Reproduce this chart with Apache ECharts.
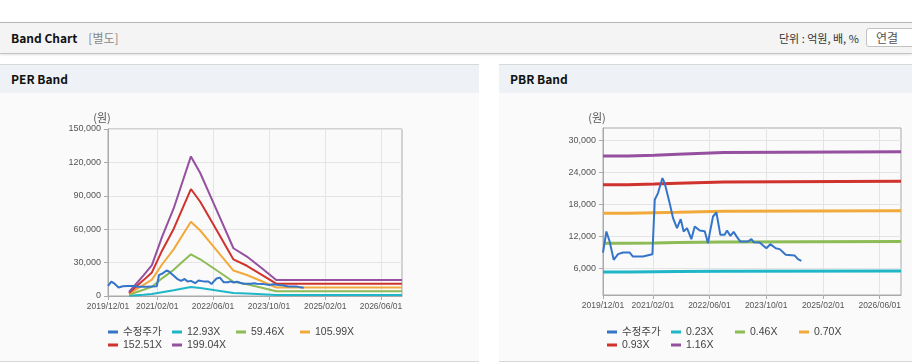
<!DOCTYPE html>
<html>
<head>
<meta charset="utf-8">
<script src="https://cdn.jsdelivr.net/npm/echarts@6/dist/echarts.min.js"></script>
<style>
  body { margin: 0; width: 912px; height: 364px; overflow: hidden; background: #fff;
         font-family: "Noto Sans CJK KR", "Liberation Sans", sans-serif; position: relative; }
  .topbar { position: absolute; left: 0; top: 22px; width: 912px; height: 30px; background: #f4f4f4;
            border-top: 1px solid #b4b4b4; border-bottom: 1px solid #c4c4c4; box-shadow: 0 1px 2px rgba(0,0,0,.12); }
  .topbar .ttl { position: absolute; left: 11px; top: 0; line-height: 30px; font-size: 12px; font-weight: bold; color: #111; }
  .topbar .sub { color: #888; font-weight: normal; margin-left: 11px; }
  .topbar .unit { position: absolute; left: 779px; top: 0; line-height: 30px; font-size: 11px; color: #333; }
  .topbar .btn { position: absolute; left: 866px; top: 5px; width: 52px; height: 19px; background: #fff;
                 border: 1px solid #c2c2c2; border-radius: 3px; font-size: 12px; line-height: 18px; color: #555;
                 padding-left: 9px; box-sizing: border-box; }
  .panel { position: absolute; top: 64px; height: 298px; background: #fafafa;
           border-top: 1px solid #d8d8d8; border-bottom: 1px solid #d8d8d8; box-sizing: border-box; }
  .panel .hd { height: 28px; background: #eef1f6; font-size: 12px; font-weight: bold; line-height: 28px;
               padding-left: 11px; color: #111; }
  .panel .cv { position: absolute; left: 0; top: 28px; right: 0; height: 268px; }
</style>
</head>
<body>
<div class="topbar">
  <div class="ttl">Band Chart<span class="sub">[별도]</span></div>
  <div class="unit">단위 : 억원, 배, %</div>
  <div class="btn">연결</div>
</div>
<div class="panel" style="left:0;width:479px"><div class="hd">PER Band</div><div class="cv" id="per"></div></div>
<div class="panel" style="left:499px;width:413px"><div class="hd">PBR Band</div><div class="cv" id="pbr"></div></div>
<script>
// ── data ─────────────────────────────────────────────────────────────
const xTickLabels = ["2019/12/01", "2021/02/01", "2022/06/01", "2023/10/01", "2025/02/01", "2026/06/01"];
const xMin = "2019/12/01", xMax = "2026/12/01";

// 수정주가 (adjusted price), shared by both charts
const priceDates = [
  "2019-12-01","2019-12-30","2020-01-27","2020-03-02","2020-04-08","2020-05-21","2020-07-17","2020-08-14",
  "2020-11-08","2021-01-28","2021-02-17","2021-03-17","2021-04-24","2021-05-13","2021-06-25","2021-07-24",
  "2021-08-27","2021-09-28","2021-10-23","2021-11-21","2021-12-08","2021-12-28","2022-01-26","2022-03-10",
  "2022-04-22","2022-05-20","2022-06-04","2022-07-02","2022-07-31","2022-08-11","2022-09-03","2022-10-10",
  "2022-10-30","2022-11-28","2022-12-26","2023-01-24","2023-02-22","2023-04-28","2023-05-27","2023-06-16",
  "2023-08-06","2023-10-03","2023-11-06","2023-12-22","2024-01-25","2024-03-17","2024-06-02","2024-06-30",
  "2024-07-29"];
const priceValues = [
  9000, 12940, 11060, 7630, 8700, 9000, 9000, 8250,
  8250, 8700, 18880, 20140, 22950, 22010, 18260, 15450,
  13570, 15260, 12940, 13570, 12640, 11510, 13880, 13130,
  13000, 10760, 12640, 15750, 16500, 16400, 12320, 12320,
  13130, 12130, 12880, 11890, 11060, 11060, 11510, 10950,
  10880, 9820, 10570, 9820, 9640, 8570, 8440, 7760,
  7440];

// PER bands
const perBandDates = ["2020-06-01","2020-10-05","2020-12-17","2021-03-15","2021-06-24","2021-11-21","2022-02-10",
  "2022-06-06","2022-11-26","2023-03-23","2023-07-31","2023-12-03","2026-12-01"];
const per1293 = [230, 1210, 1800, 3450, 5110, 8150, 7180, 5420, 2790, 2300, 1620, 935, 935];
const per5946 = [1070, 5560, 8270, 15880, 23490, 37460, 33000, 24910, 12810, 10580, 7430, 4300, 4300];
const per10599 = [1910, 9910, 14730, 28300, 41870, 66770, 58820, 44410, 22840, 18870, 13250, 7660, 7660];
const per15251 = [2750, 14260, 21200, 40720, 60240, 96080, 84640, 63900, 32870, 27150, 19060, 11030, 11030];
const per19904 = [3580, 18610, 27670, 53140, 78620, 125400, 110470, 83400, 42890, 35430, 24880, 14390, 14390];
const perYTicks = [0, 30000, 60000, 90000, 120000, 150000];
const perYMin = 0, perYMax = 150000;

// PBR bands (step lines)
const pbrBandDates = ["2019-12-01","2020-07-01","2021-02-15","2021-09-01","2022-10-01","2026-12-01"];
const pbr023 = [5370, 5400, 5430, 5500, 5530, 5530];
const pbr046 = [10740, 10800, 10870, 10990, 11050, 11050];
const pbr070 = [16340, 16440, 16530, 16730, 16820, 16820];
const pbr093 = [21710, 21840, 21970, 22230, 22350, 22350];
const pbr116 = [27070, 27240, 27400, 27720, 27870, 27870];
const pbrYTicks = [6000, 12000, 18000, 24000, 30000];
const pbrYMin = 1050, pbrYMax = 32330;

const C = { price: "#3474c9", c1: "#1fb6c8", c2: "#8dbb55", c3: "#f2a93b", c4: "#d0322d", c5: "#95509f" };

// ── helpers ──────────────────────────────────────────────────────────
function ts(s) {
  const [y, m, d] = s.split(/[-/]/).map(Number);
  return new Date(y, m - 1, d).getTime();
}
function pairs(dates, vals) { return dates.map((d, i) => [ts(d), vals[i]]); }
function pad(n) { return n < 10 ? "0" + n : "" + n; }
function fmtDate(v) {
  const d = new Date(v);
  return `${d.getFullYear()}/${pad(d.getMonth() + 1)}/${pad(d.getDate())}`;
}
function fmtNum(v) { return Math.round(v).toLocaleString("en-US"); }

const xTicks = xTickLabels.map(ts);
const LBL = { color: "#555", fontSize: 9, fontFamily: "Liberation Sans, Noto Sans CJK KR" };
const AX = { color: "#aaa" };

function xAxisDef(ticks, gridIndex) {
  return {
    type: "value", gridIndex, min: ts(xMin), max: ts(xMax), position: "bottom",
    show: ticks.length > 0,
    axisLine: { show: gridIndex === 0, lineStyle: AX },
    axisTick: { show: true, customValues: ticks, length: 4, lineStyle: AX },
    // slightly smaller: the 2019/12 and 2021/02 labels sit close together
    axisLabel: { ...LBL, fontSize: 8.5, customValues: ticks, formatter: fmtDate, margin: 6,
                 hideOverlap: false },
    splitLine: { show: gridIndex === 0, lineStyle: { color: "#e4e4e4" } },
  };
}
function yAxisDef(ticks, gridIndex, min, max) {
  const main = gridIndex === 0;
  return {
    type: "value", gridIndex, min, max, show: ticks.length > 0,
    name: main ? "(원)" : "", nameGap: 6,
    nameTextStyle: { color: "#555", fontSize: 11, align: "center", padding: [0, 12, 0, 0],
                     fontFamily: "Noto Sans CJK KR" },
    axisLine: { show: main, lineStyle: AX },
    axisTick: { show: true, customValues: ticks, length: 4, lineStyle: AX },
    axisLabel: { ...LBL, customValues: ticks, formatter: fmtNum, margin: 7 },
    splitLine: { show: main, lineStyle: { color: "#e4e4e4" } },
  };
}

// Origin labels (first date, a zero value) go on overlay grids of the same rect.
function baseOption(bands, yTicks, yMin, yMax, rect) {
  const series = [{
    name: "수정주가", type: "line", data: pairs(priceDates, priceValues),
    symbol: "none", z: 4, itemStyle: { color: C.price }, lineStyle: { color: C.price, width: 2 },
  }];
  for (const b of bands) {
    series.push({
      name: b.name, type: "line", data: b.data, symbol: "none", z: 3,
      step: b.step || false,
      itemStyle: { color: b.color }, lineStyle: { color: b.color, width: b.width || 2 },
    });
  }
  const yLow = yTicks.filter(v => v === yMin);
  const yMain = yTicks.filter(v => v !== yMin);
  return {
    backgroundColor: "transparent", animation: false,
    grid: [
      { ...rect, show: true, borderColor: "#aaa", borderWidth: 1, outerBoundsMode: "none" },
      { ...rect, show: false, outerBoundsMode: "none" },
      { ...rect, show: false, outerBoundsMode: "none" },
    ],
    legend: {
      data: series.map(s => s.name), left: 108, top: 233, width: 262, padding: 0,
      icon: "rect", itemWidth: 10, itemHeight: 3, itemGap: 1,
      textStyle: { color: "#444", fontSize: 10.5, width: 48, lineHeight: 12,
                   fontFamily: "Liberation Sans, Noto Sans CJK KR" },
    },
    xAxis: [xAxisDef(xTicks.slice(1), 0), xAxisDef(xTicks.slice(0, 1), 1), xAxisDef([], 2)],
    yAxis: [yAxisDef(yMain, 0, yMin, yMax), yAxisDef([], 1, yMin, yMax), yAxisDef(yLow, 2, yMin, yMax)],
    series,
  };
}

// ── PER chart ────────────────────────────────────────────────────────
const perChart = echarts.init(document.getElementById("per"), null, { renderer: "canvas" });
perChart.setOption(baseOption([
  { name: "12.93X",  color: C.c1, data: pairs(perBandDates, per1293) },
  { name: "59.46X",  color: C.c2, data: pairs(perBandDates, per5946) },
  { name: "105.99X", color: C.c3, data: pairs(perBandDates, per10599) },
  { name: "152.51X", color: C.c4, data: pairs(perBandDates, per15251) },
  { name: "199.04X", color: C.c5, data: pairs(perBandDates, per19904) },
], perYTicks, perYMin, perYMax, { left: 108, top: 36, width: 294, height: 167 }));

// ── PBR chart ────────────────────────────────────────────────────────
const pbrChart = echarts.init(document.getElementById("pbr"), null, { renderer: "canvas" });
const pbrOpt = baseOption([
  { name: "0.23X", color: C.c1, width: 3, step: "end", data: pairs(pbrBandDates, pbr023) },
  { name: "0.46X", color: C.c2, width: 3, step: "end", data: pairs(pbrBandDates, pbr046) },
  { name: "0.70X", color: C.c3, width: 3, step: "end", data: pairs(pbrBandDates, pbr070) },
  { name: "0.93X", color: C.c4, width: 3, step: "end", data: pairs(pbrBandDates, pbr093) },
  { name: "1.16X", color: C.c5, width: 3, step: "end", data: pairs(pbrBandDates, pbr116) },
], pbrYTicks, pbrYMin, pbrYMax, { left: 104, top: 35, width: 298, height: 167 });
pbrOpt.yAxis[0].nameGap = 5;
pbrChart.setOption(pbrOpt);
</script>
</body>
</html>
